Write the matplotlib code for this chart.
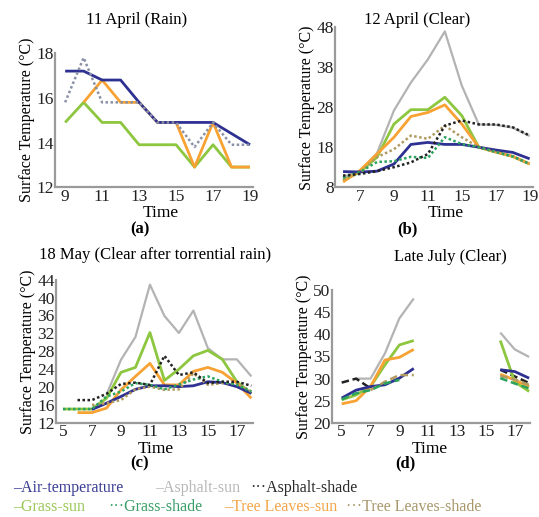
import numpy as np
import matplotlib.pyplot as plt

plt.rcParams.update({
    "font.family": ["Liberation Serif", "DejaVu Serif"],
    "axes.edgecolor": "#9a9a9a",
    "axes.linewidth": 1.6,
})

nan = np.nan

# colours
C_AIR = "#2e3192"
C_ASPH_SUN = "#b3b3b3"
C_ASPH_SHADE = "#222222"
C_GRASS_SUN = "#8dc63f"
C_GRASS_SHADE = "#2ca25f"
C_TREE_SUN = "#f7a233"
C_TREE_SHADE = "#b09a60"

# (a) 11 April (Rain)
a_time = ["9", "10", "11", "12", "13", "14", "15", "16", "17", "18", "19"]
a_air = [17.2, 17.2, 16.8, 16.8, 15.8, 14.9, 14.9, 14.9, 14.9, 14.4, 13.9]
a_asph_shade = [15.8, 17.8, 15.8, 15.8, 15.8, 14.9, 14.9, 13.8, 14.9, 13.9, 13.9]
a_grass_sun = [14.9, 15.8, 14.9, 14.9, 13.9, 13.9, 13.9, 12.9, 13.9, 12.9, 12.9]
a_tree_sun = [nan, 15.8, 16.8, 15.8, 15.8, 14.9, 14.9, 12.9, 14.9, 12.9, 12.9]
a_ticks = ["9", "11", "13", "15", "17", "19"]

# (b) 12 April (Clear)
b_time = ["6", "7", "8", "9", "10", "11", "12", "15", "16", "17", "18", "19"]
b_air = [11.9, 11.8, 12.0, 13.8, 18.7, 19.2, 18.7, 18.7, 18.0, 17.3, 16.7, 15.1]
b_asph_sun = [10.5, 12.0, 16.5, 27.2, 34.2, 40.0, 47.0, 33.4, 23.7, 23.6, 22.9, 20.8]
b_asph_shade = [10.9, 11.3, 12.0, 13.0, 14.2, 16.3, 23.4, 24.7, 23.7, 23.7, 23.0, 20.9]
b_grass_sun = [9.7, 11.8, 15.5, 23.8, 27.4, 27.4, 30.5, 25.9, 18.0, 16.8, 15.7, 13.8]
b_grass_shade = [10.4, 11.8, 14.3, 14.5, 15.6, 15.3, 20.5, 18.8, 18.0, 16.8, 15.7, 13.8]
b_tree_sun = [9.3, 12.2, 16.3, 20.5, 25.7, 26.7, 28.6, 23.8, 18.0, 16.8, 15.7, 13.8]
b_tree_shade = [10.0, 11.6, 15.5, 17.5, 20.9, 20.1, 23.4, 20.5, 18.0, 16.8, 15.7, 13.8]
b_ticks = ["7", "9", "11", "15", "17", "19"]

# (c) 18 May (Clear after torrential rain)
c_time = [str(h) for h in range(5, 19)]
c_air = [nan, nan, 15.0, 16.4, 17.9, 19.5, 20.3, 20.3, 20.1, 20.3, 21.2, 21.0, 20.1, 18.6]
c_asph_sun = [nan, nan, nan, 18.3, 26.1, 31.2, 42.9, 35.9, 32.1, 37.1, 28.7, 26.2, 26.2, 22.4]
c_asph_shade = [nan, 17.1, 17.1, 18.5, 20.7, 21.0, 20.5, 27.0, 22.7, 23.3, 20.9, 21.2, 21.2, 20.3]
c_grass_sun = [15.1, 15.1, 15.1, 17.5, 23.3, 24.4, 32.2, 21.5, 24.0, 27.0, 28.2, 26.2, 21.2, 18.6]
c_grass_shade = [15.1, 15.1, 15.1, 17.9, 19.0, 20.9, 20.5, 19.5, 20.6, 21.7, 22.4, 21.2, 20.5, 19.0]
c_tree_sun = [nan, 14.3, 14.3, 15.3, 19.4, 22.4, 25.3, 20.5, 20.5, 23.5, 24.4, 23.3, 20.9, 17.5]
c_tree_shade = [nan, nan, 16.0, 16.4, 17.1, 19.5, 20.1, 19.4, 19.5, 23.1, 20.5, 20.9, 20.9, 19.0]
c_ticks = ["5", "7", "9", "11", "13", "15", "17"]

# (d) Late July (Clear)
d_time = [str(h) for h in range(5, 19)]
d_air = [25.6, 27.4, 28.2, 28.6, 30.1, 32.3, nan, nan, nan, nan, nan, 32.0, 31.6, 30.1]
d_asph_sun = [nan, 30.0, 30.0, 35.7, 43.6, 48.1, nan, nan, nan, nan, nan, 40.4, 36.6, 34.9]
d_asph_shade = [29.1, 30.0, 27.8, nan, nan, nan, nan, nan, nan, nan, nan, 32.0, 30.5, 29.0]
d_grass_sun = [25.2, 26.3, 28.2, 33.1, 37.6, 38.6, nan, nan, nan, nan, nan, 38.6, 29.3, 27.1]
d_grass_shade = [25.3, 26.7, 27.4, 28.9, 29.7, nan, nan, nan, nan, nan, nan, 30.1, 28.9, 27.8]
d_tree_sun = [24.3, 25.0, 28.2, 34.2, 34.8, 36.6, nan, nan, nan, nan, nan, 31.0, 29.7, 28.2]
d_tree_shade = [nan, nan, 27.4, 29.3, 30.8, 30.8, nan, nan, nan, nan, nan, 30.6, 29.8, 28.6]
d_ticks = ["5", "7", "9", "11", "13", "15", "17"]

DOT = (0, (1, 1))
DASH = (0, (3, 1.5))
W, H = 539, 517

fig = plt.figure(figsize=(5.39, 5.17), dpi=100)


def style_axes(ax, time, ticks, ylim, yticks, xlim, title, title_xy, letter_xy, letter, time_xy):
    ax.set_xlim(*xlim)
    ax.set_ylim(*ylim)
    ax.set_yticks(yticks)
    ax.set_xticks([time.index(t) for t in ticks])
    ax.set_xticklabels(ticks)
    ax.tick_params(length=0, labelsize=12.5, pad=1, colors="#222222")
    for s in ["top", "right"]:
        ax.spines[s].set_visible(False)
    ax.set_ylabel("Surface Temperature (\u00b0C)", fontsize=11.5, labelpad=1)
    fig.text(title_xy[0] / W, 1 - title_xy[1] / H, title, fontsize=12,
             ha="center", va="center")
    fig.text(time_xy[0] / W, 1 - time_xy[1] / H, "Time", fontsize=12.5,
             ha="center", va="center")
    fig.text(letter_xy[0] / W, 1 - letter_xy[1] / H, letter, fontsize=12,
             fontweight="bold", ha="center", va="center")


def draw(ax, x, series):
    for y, color, ls, lw in series:
        ax.plot(x, y, color=color, linestyle=ls, linewidth=lw,
                solid_capstyle="butt")


# panel (a)
ax = fig.add_axes([0.102, 0.638, 0.367, 0.259])
xa = np.arange(len(a_time))
draw(ax, xa, [
    (a_grass_sun, C_GRASS_SUN, "-", 2.0),
    (a_tree_sun, C_TREE_SUN, "-", 2.0),
    (a_air, C_AIR, "-", 2.0),
    (a_asph_shade, "#8a90a6", DOT, 1.8),
])
style_axes(ax, a_time, a_ticks, (12, 18), [12, 14, 16, 18], (-0.55, 10.15),
           "11 April (Rain)", (137, 20), (140, 229), "(a)", (161, 213))

# panel (b)
ax = fig.add_axes([0.622, 0.638, 0.367, 0.309])
xb = np.arange(len(b_time))
draw(ax, xb, [
    (b_asph_sun, C_ASPH_SUN, "-", 1.6),
    (b_grass_sun, C_GRASS_SUN, "-", 2.0),
    (b_tree_sun, C_TREE_SUN, "-", 2.0),
    (b_air, C_AIR, "-", 2.0),
    (b_tree_shade, C_TREE_SHADE, DOT, 1.8),
    (b_grass_shade, C_GRASS_SHADE, DOT, 1.8),
    (b_asph_shade, C_ASPH_SHADE, DOT, 1.8),
])
style_axes(ax, b_time, b_ticks, (8, 48), [8, 18, 28, 38, 48], (-0.46, 11.2),
           "12 April (Clear)", (417, 20), (407, 229), "(b)", (446, 213))

# panel (c)
ax = fig.add_axes([0.104, 0.182, 0.365, 0.277])
xc = np.arange(len(c_time))
draw(ax, xc, [
    (c_asph_sun, C_ASPH_SUN, "-", 1.6),
    (c_grass_sun, C_GRASS_SUN, "-", 2.0),
    (c_tree_sun, C_TREE_SUN, "-", 2.0),
    (c_air, C_AIR, "-", 2.0),
    (c_tree_shade, C_TREE_SHADE, DOT, 1.8),
    (c_grass_shade, C_GRASS_SHADE, DOT, 1.8),
    (c_asph_shade, C_ASPH_SHADE, DOT, 1.8),
])
style_axes(ax, c_time, c_ticks, (12, 44), list(range(12, 45, 4)), (-0.48, 13.1),
           "18 May (Clear after torrential rain)", (155, 255), (140, 463), "(c)",
           (156, 449))

# panel (d)
ax = fig.add_axes([0.616, 0.182, 0.367, 0.257])
xd = np.arange(len(d_time))
draw(ax, xd, [
    (d_asph_sun, C_ASPH_SUN, "-", 1.6),
    (d_asph_shade, C_ASPH_SHADE, DASH, 1.8),
    (d_grass_sun, C_GRASS_SUN, "-", 2.0),
    (d_tree_sun, C_TREE_SUN, "-", 2.0),
    (d_air, C_AIR, "-", 2.0),
    (d_tree_shade, C_TREE_SHADE, DASH, 1.8),
    (d_grass_shade, C_GRASS_SHADE, DASH, 1.8),
])
style_axes(ax, d_time, d_ticks, (20, 50), list(range(20, 51, 5)), (-0.67, 13.05),
           "Late July (Clear)", (450, 257), (405, 463), "(d)", (430, 449))

# shared legend drawn as coloured text
legend_rows = [
    [("\u2013Air-temperature", "#3b3f94", 13),
     ("\u2013Asphalt-sun", "#b8b8b8", 155),
     ("\u00b7\u00b7\u00b7Asphalt-shade", "#2a2a2a", 250)],
    [("\u2013Grass-sun", "#9cc85a", 13),
     ("\u00b7\u00b7\u00b7Grass-shade", "#3a9e66", 108),
     ("\u2013Tree Leaves-sun", "#f2a548", 224),
     ("\u00b7\u00b7\u00b7Tree Leaves-shade", "#a8976a", 346)],
]
for row, ypx in zip(legend_rows, [488, 507]):
    for label, color, xpx in row:
        fig.text(xpx / W, 1 - ypx / H, label, color=color, fontsize=11.5,
                 ha="left", va="center")

fig.savefig("out.png", dpi=100, facecolor="white")
